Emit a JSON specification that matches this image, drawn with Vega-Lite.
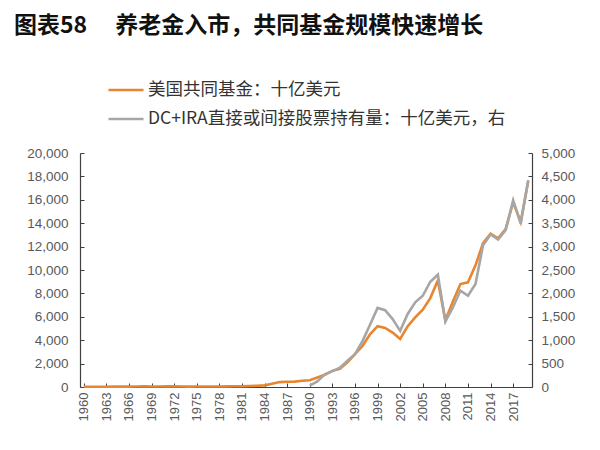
{
  "$schema": "https://vega.github.io/schema/vega-lite/v6.json",
  "autosize": {"type": "none"},
  "width": 452,
  "height": 234,
  "padding": {"left": 80, "top": 153, "right": 68, "bottom": 63},
  "background": "white",
  "title": {
    "text": "图表58　 养老金入市，共同基金规模快速增长",
    "anchor": "start",
    "frame": "group",
    "font": "Noto Sans CJK SC",
    "fontSize": 23,
    "fontWeight": "bold",
    "color": "#111111",
    "dx": -66,
    "baseline": "alphabetic",
    "offset": 0,
    "dy": -15
  },
  "config": {
    "view": {"stroke": null},
    "axis": {"grid": false, "labelFont": "Liberation Sans", "labelFontSize": 13.5, "labelColor": "#595959", "domainColor": "#404040", "tickColor": "#404040", "domainWidth": 1.2}
  },
  "data": {"values": [
    {"year":1960,"s":"美国共同基金：十亿美元","v":17},{"year":1961,"s":"美国共同基金：十亿美元","v":22},{"year":1962,"s":"美国共同基金：十亿美元","v":21},{"year":1963,"s":"美国共同基金：十亿美元","v":25},{"year":1964,"s":"美国共同基金：十亿美元","v":29},{"year":1965,"s":"美国共同基金：十亿美元","v":35},{"year":1966,"s":"美国共同基金：十亿美元","v":35},{"year":1967,"s":"美国共同基金：十亿美元","v":45},{"year":1968,"s":"美国共同基金：十亿美元","v":53},{"year":1969,"s":"美国共同基金：十亿美元","v":48},
    {"year":1970,"s":"美国共同基金：十亿美元","v":48},{"year":1971,"s":"美国共同基金：十亿美元","v":56},{"year":1972,"s":"美国共同基金：十亿美元","v":60},{"year":1973,"s":"美国共同基金：十亿美元","v":47},{"year":1974,"s":"美国共同基金：十亿美元","v":36},{"year":1975,"s":"美国共同基金：十亿美元","v":43},{"year":1976,"s":"美国共同基金：十亿美元","v":48},{"year":1977,"s":"美国共同基金：十亿美元","v":46},{"year":1978,"s":"美国共同基金：十亿美元","v":45},{"year":1979,"s":"美国共同基金：十亿美元","v":50},
    {"year":1980,"s":"美国共同基金：十亿美元","v":60},{"year":1981,"s":"美国共同基金：十亿美元","v":60},{"year":1982,"s":"美国共同基金：十亿美元","v":80},{"year":1983,"s":"美国共同基金：十亿美元","v":110},{"year":1984,"s":"美国共同基金：十亿美元","v":140},{"year":1985,"s":"美国共同基金：十亿美元","v":280},{"year":1986,"s":"美国共同基金：十亿美元","v":420},{"year":1987,"s":"美国共同基金：十亿美元","v":450},{"year":1988,"s":"美国共同基金：十亿美元","v":460},{"year":1989,"s":"美国共同基金：十亿美元","v":530},
    {"year":1990,"s":"美国共同基金：十亿美元","v":580},{"year":1991,"s":"美国共同基金：十亿美元","v":810},{"year":1992,"s":"美国共同基金：十亿美元","v":1040},{"year":1993,"s":"美国共同基金：十亿美元","v":1380},{"year":1994,"s":"美国共同基金：十亿美元","v":1550},{"year":1995,"s":"美国共同基金：十亿美元","v":2100},{"year":1996,"s":"美国共同基金：十亿美元","v":2800},{"year":1997,"s":"美国共同基金：十亿美元","v":3500},{"year":1998,"s":"美国共同基金：十亿美元","v":4500},{"year":1999,"s":"美国共同基金：十亿美元","v":5200},
    {"year":2000,"s":"美国共同基金：十亿美元","v":5050},{"year":2001,"s":"美国共同基金：十亿美元","v":4650},{"year":2002,"s":"美国共同基金：十亿美元","v":4100},{"year":2003,"s":"美国共同基金：十亿美元","v":5200},{"year":2004,"s":"美国共同基金：十亿美元","v":5950},{"year":2005,"s":"美国共同基金：十亿美元","v":6600},{"year":2006,"s":"美国共同基金：十亿美元","v":7600},{"year":2007,"s":"美国共同基金：十亿美元","v":9100},{"year":2008,"s":"美国共同基金：十亿美元","v":5700},{"year":2009,"s":"美国共同基金：十亿美元","v":7300},
    {"year":2010,"s":"美国共同基金：十亿美元","v":8800},{"year":2011,"s":"美国共同基金：十亿美元","v":8950},{"year":2012,"s":"美国共同基金：十亿美元","v":10400},{"year":2013,"s":"美国共同基金：十亿美元","v":12300},{"year":2014,"s":"美国共同基金：十亿美元","v":13100},{"year":2015,"s":"美国共同基金：十亿美元","v":12700},{"year":2016,"s":"美国共同基金：十亿美元","v":13500},{"year":2017,"s":"美国共同基金：十亿美元","v":15800},{"year":2018,"s":"美国共同基金：十亿美元","v":14100},{"year":2019,"s":"美国共同基金：十亿美元","v":17600},
    {"year":1990,"s":"DC+IRA直接或间接股票持有量：十亿美元，右","v":30},{"year":1991,"s":"DC+IRA直接或间接股票持有量：十亿美元，右","v":120},{"year":1992,"s":"DC+IRA直接或间接股票持有量：十亿美元，右","v":270},{"year":1993,"s":"DC+IRA直接或间接股票持有量：十亿美元，右","v":340},{"year":1994,"s":"DC+IRA直接或间接股票持有量：十亿美元，右","v":410},{"year":1995,"s":"DC+IRA直接或间接股票持有量：十亿美元，右","v":560},{"year":1996,"s":"DC+IRA直接或间接股票持有量：十亿美元，右","v":700},{"year":1997,"s":"DC+IRA直接或间接股票持有量：十亿美元，右","v":980},{"year":1998,"s":"DC+IRA直接或间接股票持有量：十亿美元，右","v":1330},{"year":1999,"s":"DC+IRA直接或间接股票持有量：十亿美元，右","v":1690},
    {"year":2000,"s":"DC+IRA直接或间接股票持有量：十亿美元，右","v":1640},{"year":2001,"s":"DC+IRA直接或间接股票持有量：十亿美元，右","v":1450},{"year":2002,"s":"DC+IRA直接或间接股票持有量：十亿美元，右","v":1200},{"year":2003,"s":"DC+IRA直接或间接股票持有量：十亿美元，右","v":1560},{"year":2004,"s":"DC+IRA直接或间接股票持有量：十亿美元，右","v":1810},{"year":2005,"s":"DC+IRA直接或间接股票持有量：十亿美元，右","v":1950},{"year":2006,"s":"DC+IRA直接或间接股票持有量：十亿美元，右","v":2250},{"year":2007,"s":"DC+IRA直接或间接股票持有量：十亿美元，右","v":2400},{"year":2008,"s":"DC+IRA直接或间接股票持有量：十亿美元，右","v":1400},{"year":2009,"s":"DC+IRA直接或间接股票持有量：十亿美元，右","v":1700},
    {"year":2010,"s":"DC+IRA直接或间接股票持有量：十亿美元，右","v":2060},{"year":2011,"s":"DC+IRA直接或间接股票持有量：十亿美元，右","v":1950},{"year":2012,"s":"DC+IRA直接或间接股票持有量：十亿美元，右","v":2200},{"year":2013,"s":"DC+IRA直接或间接股票持有量：十亿美元，右","v":3030},{"year":2014,"s":"DC+IRA直接或间接股票持有量：十亿美元，右","v":3260},{"year":2015,"s":"DC+IRA直接或间接股票持有量：十亿美元，右","v":3150},{"year":2016,"s":"DC+IRA直接或间接股票持有量：十亿美元，右","v":3350},{"year":2017,"s":"DC+IRA直接或间接股票持有量：十亿美元，右","v":3990},{"year":2018,"s":"DC+IRA直接或间接股票持有量：十亿美元，右","v":3490},{"year":2019,"s":"DC+IRA直接或间接股票持有量：十亿美元，右","v":4420}
  ]},
  "encoding": {
    "x": {"field": "year", "type": "quantitative", "scale": {"domain": [1959.5, 2019.5], "nice": false, "zero": false},
      "axis": {"title": null, "values": [1960,1963,1966,1969,1972,1975,1978,1981,1984,1987,1990,1993,1996,1999,2002,2005,2008,2011,2014,2017], "format": "d", "labelAngle": -90, "tickSize": -4, "labelPadding": 9, "labelFontSize": 13}},
    "color": {"field": "s", "type": "nominal",
      "scale": {"domain": ["美国共同基金：十亿美元", "DC+IRA直接或间接股票持有量：十亿美元，右"], "range": ["#E8852E", "#A6A6A6"]},
      "legend": {"title": null, "orient": "none", "legendX": 27, "legendY": -82, "symbolType": "stroke", "symbolSize": 1225, "symbolStrokeWidth": 2.5, "labelFont": "Noto Sans CJK SC", "labelFontSize": 17.5, "labelColor": "#333333", "rowPadding": 1, "labelOffset": 3, "labelLimit": 500}}
  },
  "layer": [
    {
      "transform": [{"filter": "datum.s === '美国共同基金：十亿美元'"}],
      "mark": {"type": "line", "strokeWidth": 2.6},
      "encoding": {"y": {"field": "v", "type": "quantitative", "scale": {"domain": [0, 20000], "nice": false},
        "axis": {"title": null, "orient": "left", "values": [0,2000,4000,6000,8000,10000,12000,14000,16000,18000,20000], "format": ",.0f", "tickSize": -4, "labelPadding": 16}}}
    },
    {
      "transform": [{"filter": "datum.s !== '美国共同基金：十亿美元'"}],
      "mark": {"type": "line", "strokeWidth": 2.6},
      "encoding": {"y": {"field": "v", "type": "quantitative", "scale": {"domain": [0, 5000], "nice": false},
        "axis": {"title": null, "orient": "right", "values": [0,500,1000,1500,2000,2500,3000,3500,4000,4500,5000], "format": ",.0f", "tickSize": -4, "labelPadding": 13}}}
    }
  ],
  "resolve": {"scale": {"y": "independent"}}
}
